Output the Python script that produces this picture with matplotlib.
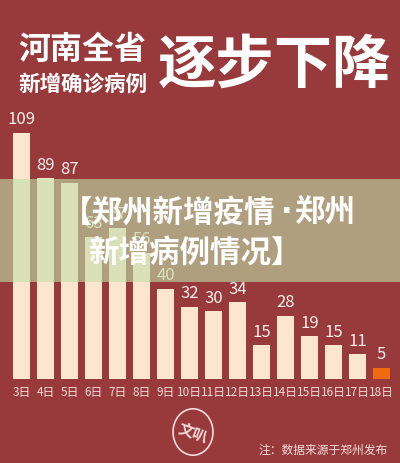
import matplotlib
matplotlib.use("Agg")
import matplotlib.pyplot as plt
from matplotlib.patches import Rectangle, Circle

plt.rcParams['font.family'] = ['Noto Sans CJK SC', 'DejaVu Sans']

# ---------------------------
# Data
# ---------------------------
days = ["3日", "4日", "5日", "6日", "7日", "8日", "9日", "10日",
        "11日", "12日", "13日", "14日", "15日", "16日", "17日", "18日"]
cases = [109, 89, 87, 63, 67, 56, 40, 32, 30, 34, 15, 28, 19, 15, 11, 5]

BG = "#983a3c"
BAR = "#fde5cf"
LAST = "#f26a10"
W, H = 400, 464

fig = plt.figure(figsize=(W / 100, H / 100), dpi=100, facecolor=BG)

# axes: bar baseline at y=380px, bar centres at 21.5 + 24*i px
ax = fig.add_axes([0, (H - 380) / H, 1, 260 / H])
ax.set_facecolor(BG)
x = list(range(len(days)))
colors = [BAR] * (len(days) - 1) + [LAST]
ax.bar(x, cases, width=17 / 24, color=colors, zorder=2)
ax.set_xlim(-21.5 / 24, (400 - 21.5) / 24)
ax.set_ylim(0, 260 / 2.257)

for xi, v in zip(x, cases):
    ax.annotate(str(v), (xi, v), xytext=(0, 4), textcoords="offset points",
                ha="center", va="bottom", fontsize=12, color="#fbeee8")

ax.set_xticks(x)
ax.set_xticklabels(days, fontsize=8.5, color="#f3dcd6")
ax.tick_params(axis="x", length=0, pad=4)
ax.set_yticks([])
for s in ax.spines.values():
    s.set_visible(False)

# title
fig.text(18 / W, 1 - 50 / H, "河南全省", fontsize=23, fontweight="heavy",
         color="white", ha="left", va="center")
fig.text(18 / W, 1 - 84 / H, "新增确诊病例", fontsize=15.5, fontweight="bold",
         color="white", ha="left", va="center")
fig.text(158 / W, 1 - 66 / H, "逐步下降", fontsize=42, fontweight="heavy",
         color="white", ha="left", va="center")

# translucent band over the chart
fig.add_artist(Rectangle((0, 1 - 283 / H), 1, 103 / H, transform=fig.transFigure,
                         facecolor="#c0dea8", alpha=0.62, edgecolor="none", zorder=5))
fig.text(62 / W, 1 - 213 / H, "【郑州新增疫情", fontsize=22, fontweight="bold",
         color="white", ha="left", va="center", zorder=6)
fig.text(287 / W, 1 - 213 / H, "·", fontsize=22, fontweight="bold",
         family="DejaVu Sans", color="white", ha="center", va="center", zorder=6)
fig.text(294 / W, 1 - 213 / H, "郑州", fontsize=22, fontweight="bold",
         color="white", ha="left", va="center", zorder=6)
fig.text(88 / W, 1 - 253 / H, "新增病例情况】", fontsize=22, fontweight="bold",
         color="white", ha="left", va="center", zorder=6)

# footer logo and note
fig.add_artist(Circle((193 / W, 1 - 433 / H), 20 / W, transform=fig.transFigure,
                      facecolor="none", edgecolor="#f3dcd6", linewidth=1.2))
fig.text(193 / W, 1 - 433 / H, "文叭", fontsize=11, fontweight="bold",
         color="#f3dcd6", ha="center", va="center", rotation=-20)
fig.text(388 / W, 1 - 450 / H, "注：数据来源于郑州发布", fontsize=8.5,
         color="#f3dcd6", ha="right", va="center")

fig.savefig("out.png", dpi=100, facecolor=BG)
